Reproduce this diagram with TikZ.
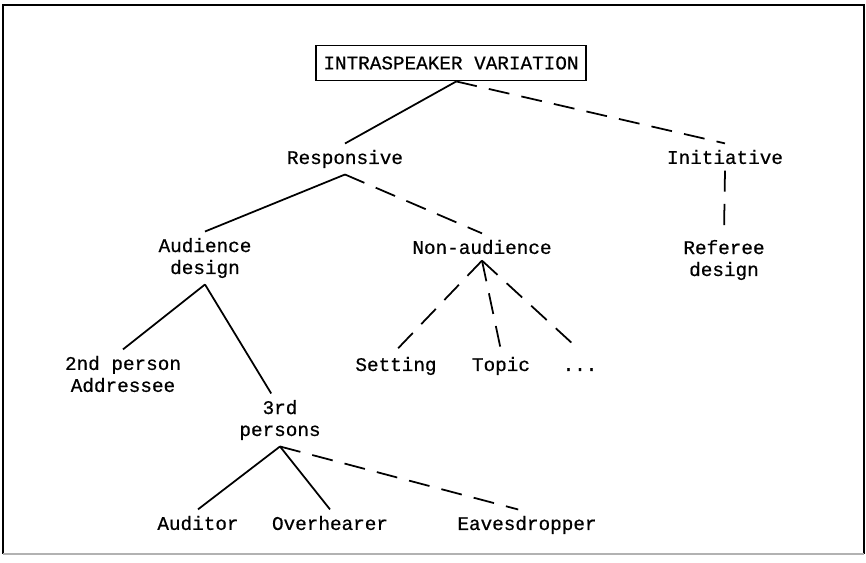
\documentclass[tikz,border=0pt]{standalone}
\usepackage{fontspec}
\setmonofont{Liberation Mono}[FakeBold=0.6]
\usetikzlibrary{positioning}
\begin{document}
\begin{tikzpicture}[
        x=0.02cm, y=-0.02cm,
        every node/.style={font=\ttfamily\fontsize{11}{12.5}\selectfont, align=center, inner sep=3.5pt},
        full/.style={line width=1pt},
        gap/.style={line width=1pt, dash pattern=on 12pt off 7pt}]

        \useasboundingbox (0,0) rectangle (866,563);
        \draw[line width=1.5pt] (3,554) -- (3,5) -- (864,5) -- (864,554);
        \draw[gray!60, line width=0.6pt] (3,554) -- (864,554);

        \node[draw, line width=1pt, minimum width=154pt, minimum height=20pt, inner sep=0pt] (IV) at (451,63) {INTRASPEAKER VARIATION};
        \node (Resp) at (345,159) {Responsive};
        \node (Init) at (725,157) {Initiative};
        \node (Aud) at (205,258) {Audience\\design};
        \node (NonAud) at (482,247) {Non-audience};
        \node (Ref) at (724,260) {Referee\\design};
        \node (Second) at (123,374) {2nd person\\Addressee};
        \node (Set) at (396,366) {Setting};
        \node (Top) at (501,366) {Topic};
        \node (Dots) at (580,366) {\vphantom{Setting}...};
        \node (Third) at (280,420) {3rd\\persons};
        \node (Audi) at (198,523) {Auditor};
        \node (Over) at (330,523) {Overhearer};
        \node (Eaves) at (527,525) {Eavesdropper};

        \draw[full] ([xshift=3pt]IV.south) -- (Resp.north);
        \draw[gap] ([xshift=3pt]IV.south) -- (Init.north);
        \draw[full] (Resp.south) -- (Aud.north);
        \draw[gap] (Resp.south) -- (NonAud.north);
        \draw[gap] (Init.south) -- (Ref.north);
        \draw[full] (Aud.south) -- (Second.north);
        \draw[full] (Aud.south) -- ([xshift=-5pt]Third.north);
        \draw[gap] (NonAud.south) -- (Set.north);
        \draw[gap] (NonAud.south) -- (Top.north);
        \draw[gap] (NonAud.south) -- (Dots.north);
        \draw[full] (Third.south) -- (Audi.north);
        \draw[full] (Third.south) -- (Over.north);
        \draw[gap] (Third.south) -- ([xshift=-5pt]Eaves.north);

    \end{tikzpicture}
\end{document}
